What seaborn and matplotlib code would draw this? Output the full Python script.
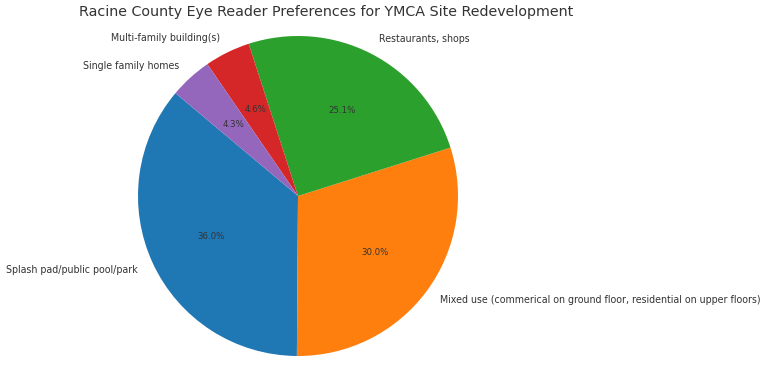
import matplotlib
matplotlib.use("Agg")
import matplotlib.pyplot as plt
import seaborn as sns

# Reader survey results (percent)
labels = [
    "Splash pad/public pool/park",
    "Mixed use (commerical on ground floor, residential on upper floors)",
    "Restaurants, shops",
    "Multi-family building(s)",
    "Single family homes",
]
shares = [36.0, 30.0, 25.1, 4.6, 4.3]

sns.set_style("white")
colors = sns.color_palette("tab10", len(labels))

fig = plt.figure(figsize=(7.68, 3.78), dpi=100)
# square axes so the pie sits where it does in the original layout
ax = fig.add_axes([98 / 768, -18 / 378, 400 / 768, 400 / 378])
ax.pie(shares, labels=labels, colors=colors, autopct="%1.1f%%",
       startangle=140, wedgeprops={"linewidth": 0},
       textprops={"fontsize": 6.85, "color": "#333333"})
for t in ax.texts:
    if t.get_text().endswith("%"):
        t.set_fontsize(6.2)
ax.set_aspect("equal")

fig.text(326 / 768, 1 - 12 / 378, "Racine County Eye Reader Preferences for YMCA Site Redevelopment",
         ha="center", va="center", fontsize=10.3, color="#333333")

fig.savefig("out.png", dpi=100)
